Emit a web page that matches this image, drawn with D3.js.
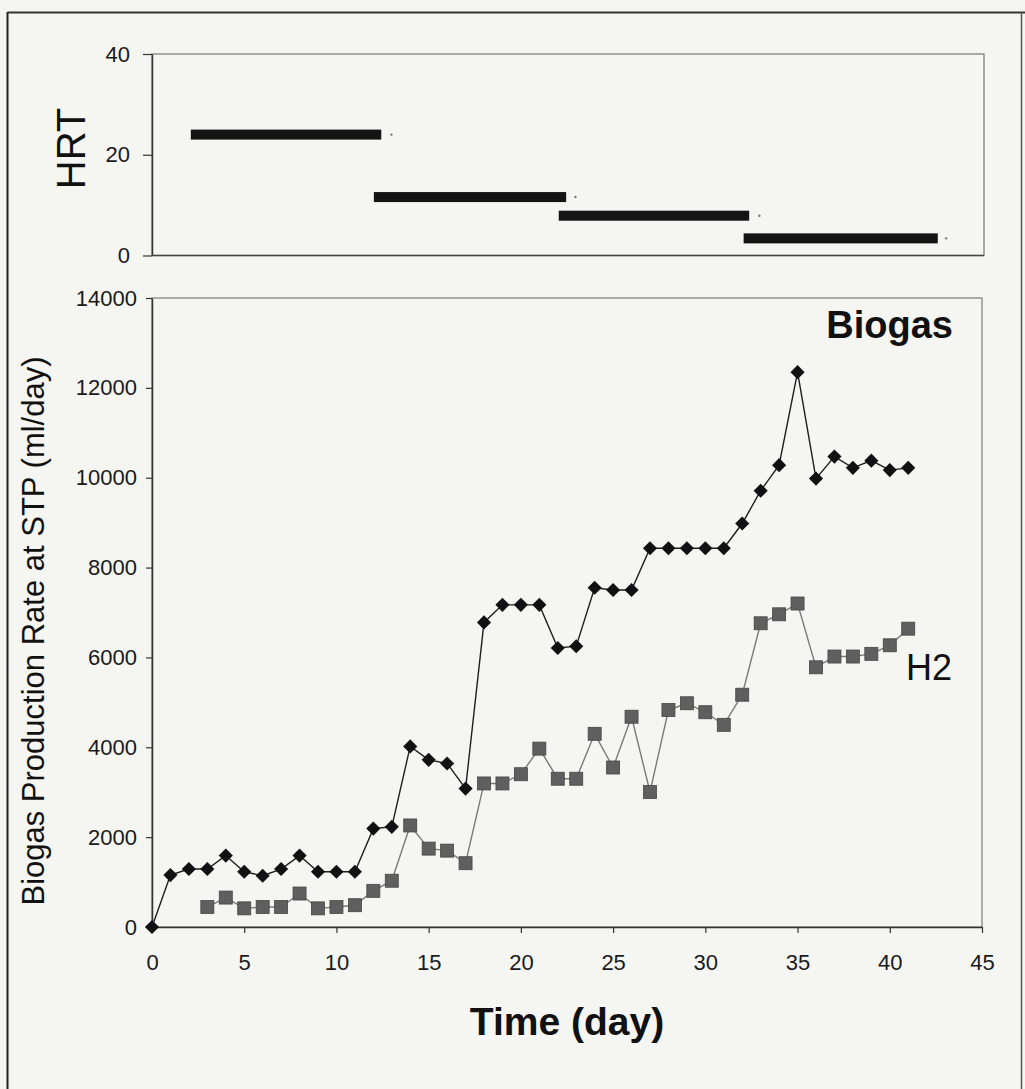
<!DOCTYPE html>
<html>
<head>
<meta charset="utf-8">
<script src="https://cdn.jsdelivr.net/npm/d3@7"></script>
<style>
  html, body { margin: 0; padding: 0; background: #f5f5f2; }
  svg { display: block; font-family: "Liberation Sans", Arial, sans-serif; }
</style>
</head>
<body>
<svg id="chart" width="1025" height="1089"></svg>
<script>
// Sampling days and measured gas production (ml/day at STP)
const biogasDays = [0,1,2,3,4,5,6,7,8,9,10,11,12,13,14,15,16,17,18,19,20,21,22,23,24,25,26,27,28,29,30,31,32,33,34,35,36,37,38,39,40,41];
const biogasValues = [0,1155,1290,1290,1590,1230,1140,1290,1590,1230,1230,1230,2190,2230,4020,3720,3640,3080,6780,7170,7170,7170,6210,6250,7550,7500,7500,8430,8430,8430,8430,8430,8980,9710,10280,12350,9980,10470,10220,10380,10170,10220];

const h2Days = [3,4,5,6,7,8,9,10,11,12,13,14,15,16,17,18,19,20,21,22,23,24,25,26,27,28,29,30,31,32,33,34,35,36,37,38,39,40,41];
const h2Values = [445,655,415,445,445,745,415,445,485,805,1030,2260,1745,1700,1420,3195,3195,3400,3970,3300,3300,4300,3550,4680,3005,4830,4980,4780,4500,5170,6760,6960,7200,5780,6020,6020,6080,6270,6640];

// Hydraulic retention time periods
const hrtStart = [2.1, 12, 22, 32];
const hrtEnd = [12.4, 22.4, 32.3, 42.5];
const hrtValues = [24, 11.6, 7.9, 3.4];
const hrtMarkDays = [12.95, 22.9, 32.85, 42.95];

// Tick labels
const xTicks = [0,5,10,15,20,25,30,35,40,45];
const yTicks = [0,2000,4000,6000,8000,10000,12000,14000];
const hrtTicks = [0,20,40];

const svg = d3.select("#chart");
const W = 1025, H = 1089;

svg.append("rect").attr("width", W).attr("height", H).attr("fill", "#f5f5f2");

// Outer frame of the figure
svg.append("line").attr("x1", 7.5).attr("x2", 7.5).attr("y1", 12).attr("y2", H)
  .attr("stroke", "#222").attr("stroke-width", 2);
svg.append("line").attr("x1", 7.5).attr("x2", W).attr("y1", 12.5).attr("y2", 12.5)
  .attr("stroke", "#333").attr("stroke-width", 2);
svg.append("line").attr("x1", 1021.5).attr("x2", 1021.5).attr("y1", 12).attr("y2", H)
  .attr("stroke", "#555").attr("stroke-width", 1.5);

const plotL = 152, plotR = 982;
const x = d3.scaleLinear().domain([0, 45]).range([plotL, plotR]);

// ---------- HRT panel ----------
const hrtTop = 54, hrtBottom = 255.5;
const yH = d3.scaleLinear().domain([0, 40]).range([hrtBottom, hrtTop]);
const xH = d3.scaleLinear().domain([0, 45]).range([plotL, 984]);

const gH = svg.append("g");
gH.append("rect").attr("x", plotL).attr("y", hrtTop)
  .attr("width", xH(45) - plotL).attr("height", hrtBottom - hrtTop)
  .attr("fill", "none").attr("stroke", "#777").attr("stroke-width", 1.2);

const hrtAxis = gH.append("g").attr("transform", `translate(${plotL},0)`)
  .call(d3.axisLeft(yH).tickValues(hrtTicks).tickSize(9).tickSizeOuter(0).tickPadding(13));
hrtAxis.select(".domain").attr("stroke", "#333").attr("stroke-width", 1.5);
hrtAxis.selectAll(".tick line").attr("stroke", "#333").attr("stroke-width", 1.2);
hrtAxis.selectAll("text").attr("font-size", 22).attr("fill", "#1a1a1a")
  .attr("font-family", "'Liberation Sans', Arial, sans-serif");

gH.append("line").attr("x1", plotL).attr("x2", xH(45)).attr("y1", hrtBottom).attr("y2", hrtBottom)
  .attr("stroke", "#444").attr("stroke-width", 1.5);

const hrtData = hrtValues.map((v, i) => ({ v, s: hrtStart[i], e: hrtEnd[i], m: hrtMarkDays[i] }));
gH.selectAll("rect.hrt").data(hrtData).join("rect").attr("class", "hrt")
  .attr("x", d => xH(d.s)).attr("width", d => xH(d.e) - xH(d.s))
  .attr("y", d => yH(d.v) - 5).attr("height", 10)
  .attr("fill", "#141414");
gH.selectAll("circle.hrtmark").data(hrtData).join("circle").attr("class", "hrtmark")
  .attr("cx", d => xH(d.m)).attr("cy", d => yH(d.v)).attr("r", 1.2)
  .attr("fill", "#777");

svg.append("text").attr("transform", "translate(85,148.5) rotate(-90)")
  .attr("text-anchor", "middle").attr("font-size", 40).attr("fill", "#111")
  .text("HRT");

// ---------- Biogas panel ----------
const mTop = 298, mBottom = 927;
const y = d3.scaleLinear().domain([0, 14000]).range([mBottom, mTop]);

const gM = svg.append("g");
gM.append("rect").attr("x", plotL).attr("y", mTop)
  .attr("width", plotR - plotL).attr("height", mBottom - mTop)
  .attr("fill", "none").attr("stroke", "#7a7a7a").attr("stroke-width", 1.2);

const yAxis = gM.append("g").attr("transform", `translate(${plotL},0)`)
  .call(d3.axisLeft(y).tickValues(yTicks).tickFormat(d3.format("d")).tickSize(6).tickSizeOuter(0).tickPadding(9));
yAxis.select(".domain").attr("stroke", "#333").attr("stroke-width", 1.5);
yAxis.selectAll(".tick line").attr("stroke", "#333").attr("stroke-width", 1.2);
yAxis.selectAll("text").attr("font-size", 22).attr("fill", "#1a1a1a")
  .attr("font-family", "'Liberation Sans', Arial, sans-serif");

const xAxis = gM.append("g").attr("transform", `translate(0,${mBottom})`)
  .call(d3.axisBottom(x).tickValues(xTicks).tickSize(6).tickSizeOuter(0).tickPadding(21));
xAxis.select(".domain").attr("stroke", "#333").attr("stroke-width", 1.5);
xAxis.selectAll(".tick line").attr("stroke", "#333").attr("stroke-width", 1.2);
xAxis.selectAll("text").attr("font-size", 22).attr("fill", "#1a1a1a")
  .attr("font-family", "'Liberation Sans', Arial, sans-serif");

const biogas = biogasDays.map((d, i) => ({ d, v: biogasValues[i] }));
const h2 = h2Days.map((d, i) => ({ d, v: h2Values[i] }));
const line = d3.line().x(p => x(p.d)).y(p => y(p.v));

// H2 series: gray line with gray square markers
gM.append("path").datum(h2).attr("d", line)
  .attr("fill", "none").attr("stroke", "#7a7a7a").attr("stroke-width", 1.4);
gM.selectAll("rect.h2").data(h2).join("rect").attr("class", "h2")
  .attr("x", p => x(p.d) - 6.5).attr("y", p => y(p.v) - 6.5)
  .attr("width", 13).attr("height", 13)
  .attr("fill", "#5f5f5f").attr("stroke", "#454545").attr("stroke-width", 0.8);

// Biogas series: black line with diamond markers
gM.append("path").datum(biogas).attr("d", line)
  .attr("fill", "none").attr("stroke", "#1e1e1e").attr("stroke-width", 1.4);
gM.selectAll("path.bio").data(biogas).join("path").attr("class", "bio")
  .attr("d", d3.symbol().type(d3.symbolSquare).size(100))
  .attr("transform", p => `translate(${x(p.d)},${y(p.v)}) rotate(45)`)
  .attr("fill", "#111");

// Series labels
svg.append("text").attr("x", 953).attr("y", 338).attr("text-anchor", "end")
  .attr("font-size", 38).attr("font-weight", "bold").attr("fill", "#111").text("Biogas");
svg.append("text").attr("x", 906).attr("y", 680)
  .attr("font-size", 36).attr("fill", "#111").text("H2");

// Axis titles
svg.append("text").attr("x", 567).attr("y", 1035).attr("text-anchor", "middle")
  .attr("font-size", 39).attr("font-weight", "bold").attr("fill", "#111").text("Time (day)");
svg.append("text").attr("transform", "translate(43.5,631) rotate(-90)")
  .attr("text-anchor", "middle").attr("font-size", 31).attr("fill", "#111")
  .text("Biogas Production Rate at STP (ml/day)");
</script>
</body>
</html>
